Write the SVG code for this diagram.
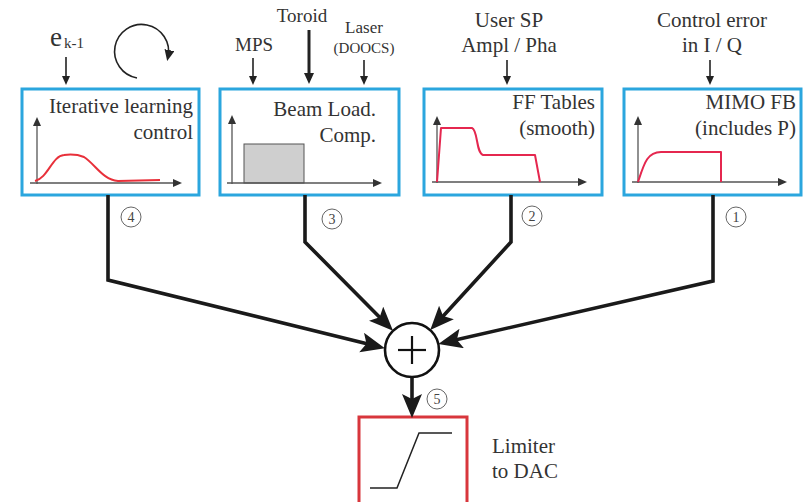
<svg xmlns="http://www.w3.org/2000/svg" width="804" height="502" viewBox="0 0 804 502">
  <defs>
    <style>
      text { font-family: "Liberation Serif", "DejaVu Serif", "Noto Serif", serif; fill: #333; }
      .lbl { font-size: 21px; }
      .box { fill: #fff; stroke: #2ba6de; stroke-width: 3; }
      .axis { fill: none; stroke: #555; stroke-width: 1.3; }
      .sig { fill: none; stroke: #e5274f; stroke-width: 2; stroke-linejoin: round; }
      .in { fill: none; stroke: #222; stroke-width: 1.6; }
      .conn { fill: none; stroke: #1a1a1a; stroke-width: 3.6; stroke-linejoin: miter; }
      .num circle { fill: #fff; stroke: #666; stroke-width: 1; }
      .num text { font-size: 14px; text-anchor: middle; fill: #444; }
    </style>
    <marker id="bigArrow" markerUnits="userSpaceOnUse" markerWidth="26" markerHeight="22" refX="18" refY="10" orient="auto">
      <path d="M0,0 L24,10 L0,20 L5,10 z" fill="#1a1a1a"/>
    </marker>
    <marker id="smallArrow" markerUnits="userSpaceOnUse" markerWidth="12" markerHeight="10" refX="6" refY="4" orient="auto">
      <path d="M0,0 L9,4 L0,8 z" fill="#222"/>
    </marker>
    <marker id="midArrow" markerUnits="userSpaceOnUse" markerWidth="14" markerHeight="12" refX="7" refY="5" orient="auto">
      <path d="M0,0 L11,5 L0,10 z" fill="#222"/>
    </marker>
    <marker id="axisArrow" markerUnits="userSpaceOnUse" markerWidth="12" markerHeight="10" refX="4" refY="4" orient="auto">
      <path d="M0,0 L9,4 L0,8 z" fill="#333"/>
    </marker>
  </defs>

  <!-- input labels and arrows feeding the four blocks -->
  <g id="inputs">
    <text x="50" y="46" style="font-size:27px">e</text>
    <text x="64" y="48" style="font-size:15px">k-1</text>
    <line class="in" x1="66" y1="57" x2="66" y2="82" marker-end="url(#smallArrow)"/>
    <path class="in" d="M137,78 A27,27 0 1 1 168,57" marker-end="url(#midArrow)"/>

    <text class="lbl" x="254" y="51" text-anchor="middle" style="font-size:19px">MPS</text>
    <line class="in" x1="253" y1="58" x2="253" y2="82" marker-end="url(#smallArrow)"/>
    <text class="lbl" x="302" y="22" text-anchor="middle" style="font-size:19px">Toroid</text>
    <line class="in" x1="309" y1="30" x2="309" y2="80" style="stroke-width:3" marker-end="url(#midArrow)"/>
    <text x="364" y="33" text-anchor="middle" style="font-size:17px">Laser</text>
    <text x="364" y="53" text-anchor="middle" style="font-size:15px">(DOOCS)</text>
    <line class="in" x1="364" y1="60" x2="364" y2="82" marker-end="url(#smallArrow)"/>

    <text class="lbl" x="509" y="27" text-anchor="middle">User SP</text>
    <text class="lbl" x="509" y="52" text-anchor="middle">Ampl / Pha</text>
    <line class="in" x1="507" y1="60" x2="507" y2="82" marker-end="url(#smallArrow)"/>

    <text class="lbl" x="712" y="27" text-anchor="middle">Control error</text>
    <text class="lbl" x="712" y="52" text-anchor="middle">in I / Q</text>
    <line class="in" x1="710" y1="60" x2="710" y2="82" marker-end="url(#smallArrow)"/>
  </g>

  <!-- iterative learning control -->
  <g id="ilc">
    <rect class="box" x="22" y="89" width="177" height="106"/>
    <text class="lbl" x="193" y="113" text-anchor="end">Iterative learning</text>
    <text class="lbl" x="193" y="139" text-anchor="end">control</text>
    <line class="axis" x1="37" y1="184" x2="37" y2="122" marker-end="url(#axisArrow)"/>
    <line class="axis" x1="30" y1="183" x2="177" y2="183" marker-end="url(#axisArrow)"/>
    <path class="sig" style="stroke:#e8303a" d="M35,181 C48,178 52,156 64,155 C72,154 79,155 84,157 C95,164 103,180 118,181 L160,180"/>
  </g>

  <!-- beam loading compensation -->
  <g id="blc">
    <rect class="box" x="220" y="89" width="179" height="106"/>
    <text class="lbl" x="376" y="116" text-anchor="end">Beam Load.</text>
    <text class="lbl" x="376" y="142" text-anchor="end">Comp.</text>
    <rect x="244" y="144" width="60" height="39" fill="#cfcfcf" stroke="#555" stroke-width="1"/>
    <line class="axis" x1="232" y1="184" x2="232" y2="120" marker-end="url(#axisArrow)"/>
    <line class="axis" x1="227" y1="183" x2="377" y2="183" marker-end="url(#axisArrow)"/>
  </g>

  <!-- feed-forward tables -->
  <g id="ff">
    <rect class="box" x="424" y="89" width="178" height="106"/>
    <text class="lbl" x="595" y="109" text-anchor="end">FF Tables</text>
    <text class="lbl" x="595" y="135" text-anchor="end">(smooth)</text>
    <line class="axis" x1="437" y1="183" x2="437" y2="121" marker-end="url(#axisArrow)"/>
    <line class="axis" x1="432" y1="182" x2="582" y2="182" marker-end="url(#axisArrow)"/>
    <path class="sig" d="M437,182 L441,128 L472,128 C478,130 476,153 483,155 L535,155 L540,182"/>
  </g>

  <!-- MIMO feedback -->
  <g id="mimo">
    <rect class="box" x="624" y="89" width="177" height="106"/>
    <text class="lbl" x="796" y="109" text-anchor="end">MIMO FB</text>
    <text class="lbl" x="796" y="135" text-anchor="end">(includes P)</text>
    <line class="axis" x1="638" y1="183" x2="638" y2="121" marker-end="url(#axisArrow)"/>
    <line class="axis" x1="632" y1="182" x2="782" y2="182" marker-end="url(#axisArrow)"/>
    <path class="sig" d="M638,182 C644,164 647,152 661,152 L721,152 L721,182"/>
  </g>

  <!-- summing junction -->
  <g id="sum">
    <circle cx="412" cy="350" r="27" fill="#fff" stroke="#111" stroke-width="2.6"/>
    <line x1="398" y1="350" x2="426" y2="350" stroke="#111" stroke-width="2.2"/>
    <line x1="412" y1="336" x2="412" y2="364" stroke="#111" stroke-width="2.2"/>
  </g>

  <!-- limiter -->
  <g id="limiter">
    <rect x="359" y="417" width="108" height="100" fill="#fff" stroke="#d8363c" stroke-width="3"/>
    <path d="M370,488 L397,488 L419,433 L452,433" fill="none" stroke="#222" stroke-width="1.5"/>
    <text class="lbl" x="492" y="453">Limiter</text>
    <text class="lbl" x="492" y="478">to DAC</text>
  </g>

  <!-- signal paths into and out of the sum -->
  <g id="connectors">
    <polyline class="conn" points="108,195 108,280 379.1,346.8" marker-end="url(#bigArrow)"/>
    <polyline class="conn" points="305,195 305,242 388.8,326.5" marker-end="url(#bigArrow)"/>
    <polyline class="conn" points="511,195 511,242 434.3,325.7" marker-end="url(#bigArrow)"/>
    <polyline class="conn" points="713,195 713,281 444.2,342.6" marker-end="url(#bigArrow)"/>
    <line class="conn" x1="412" y1="378" x2="412" y2="412" marker-end="url(#bigArrow)"/>
  </g>

  <!-- path numbers -->
  <g id="numbers" class="num">
    <circle cx="131" cy="217" r="10"/><text x="131" y="222">4</text>
    <circle cx="332" cy="219" r="10"/><text x="332" y="224">3</text>
    <circle cx="532" cy="216" r="10"/><text x="532" y="221">2</text>
    <circle cx="736" cy="217" r="10"/><text x="736" y="222">1</text>
    <circle cx="437" cy="399" r="10"/><text x="437" y="404">5</text>
  </g>
</svg>
